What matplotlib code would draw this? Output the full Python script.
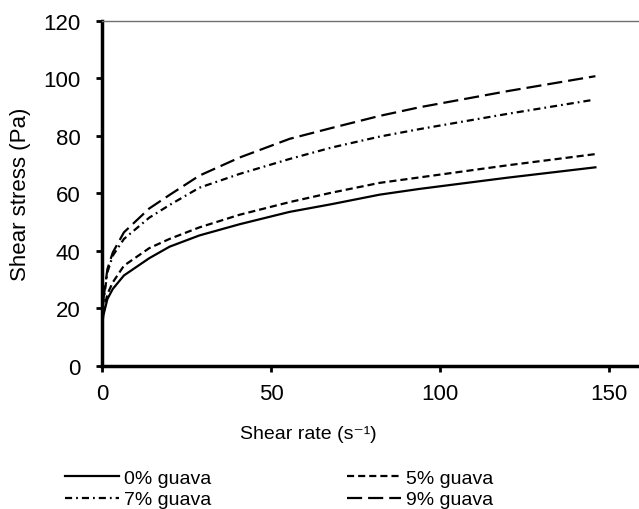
import numpy as np
import matplotlib
matplotlib.use("Agg")
import matplotlib.pyplot as plt

plt.rcParams['font.family'] = ['Liberation Sans', 'DejaVu Sans']

# shear rate (1/s) and shear stress (Pa)
rate = [0, 0.4, 1.6, 3.2, 6.5, 14, 20, 28.8, 40.7, 55.5, 68, 82.2, 94, 120, 146]
rate_7 = [0, 0.4, 1.6, 3.2, 6.5, 14, 20, 28.8, 40.7, 55.5, 68, 82.2, 94, 120, 145]
guava_0 = [13.6, 17.5, 23.3, 26.8, 31.5, 37.5, 41.5, 45.4, 49.3, 53.6, 56.3, 59.6, 61.6, 65.5, 69.1]
guava_5 = [14.5, 19, 25, 29.1, 34.9, 41, 44.2, 48.2, 52.6, 57.0, 60.3, 63.7, 65.6, 69.8, 73.7]
guava_7 = [15, 22, 32.6, 38.4, 44.2, 51.6, 56, 62, 66.8, 72.0, 76.0, 79.8, 82.4, 87.7, 92.5]
guava_9 = [15.5, 23, 33.7, 39.5, 46.5, 54.8, 59.5, 66.2, 72.5, 79.0, 82.8, 87.0, 90.0, 95.6, 100.8]

labels = ['0% guava', '5% guava', '7% guava', '9% guava']

fig = plt.figure(figsize=(6.39, 5.10), dpi=100)
ax = fig.add_axes([0.1596, 0.2804, 0.8404, 0.6765])

lw = 1.6
l0, = ax.plot(rate, guava_0, color='black', lw=lw, linestyle='-', label=labels[0])
l5, = ax.plot(rate, guava_5, color='black', lw=lw, linestyle=(0, (3.2, 1.8)), label=labels[1])
l7, = ax.plot(rate_7, guava_7, color='black', lw=lw, linestyle=(0, (3.2, 1.8, 0.8, 1.8)), label=labels[2])
l9, = ax.plot(rate, guava_9, color='black', lw=lw, linestyle=(0, (6.8, 2.7)), label=labels[3])

ax.set_xlim(0, 158.9)
ax.set_ylim(0, 120)
ax.set_xticks([0, 50, 100, 150])
ax.set_yticks(range(0, 121, 20))

ax.spines['right'].set_visible(False)
ax.spines['top'].set_color('#707070')
ax.spines['top'].set_linewidth(1.0)
ax.spines['left'].set_linewidth(2.5)
ax.spines['bottom'].set_linewidth(2.5)
ax.tick_params(direction='out', length=4, width=2, labelsize=16)
ax.tick_params(axis='x', pad=8.5)
ax.tick_params(axis='y', pad=11.5)

ax.set_xlabel('Shear rate (s\u207b\u00b9)', fontsize=14)
ax.xaxis.set_label_coords(0.385, -0.172)
ax.set_ylabel('Shear stress (Pa)', fontsize=16, labelpad=9)

# legend rows: 0%, 5% / 7%, 9% (filled column-wise)
fig.legend([l0, l7, l5, l9], [labels[0], labels[2], labels[1], labels[3]],
           loc='upper left', bbox_to_anchor=(65 / 639, 0.078), ncol=2, frameon=False,
           fontsize=14, handlelength=2.8, handletextpad=0.25, columnspacing=6.95,
           labelspacing=0.2, borderpad=0, borderaxespad=0)

fig.savefig('out.png', dpi=100)
